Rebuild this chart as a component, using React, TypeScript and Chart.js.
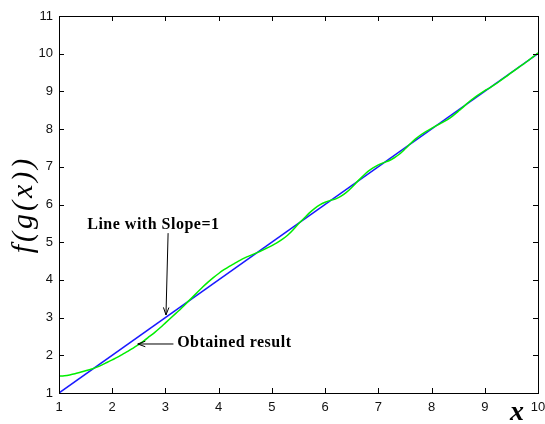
import React, { useEffect, useRef } from "react";
import { Chart, registerables } from "chart.js";

Chart.register(...registerables);

const xValues = [
  1.0, 1.1, 1.2, 1.3, 1.4, 1.5, 1.6, 1.7, 1.8, 1.9,
  2.0, 2.1, 2.2, 2.3, 2.4, 2.5, 2.6, 2.7, 2.8, 2.9,
  3.0, 3.1, 3.2, 3.3, 3.4, 3.5, 3.6, 3.7, 3.8, 3.9,
  4.0, 4.1, 4.2, 4.3, 4.4, 4.5, 4.6, 4.7, 4.8, 4.9,
  5.0, 5.1, 5.2, 5.3, 5.4, 5.5, 5.6, 5.7, 5.8, 5.9,
  6.0, 6.1, 6.2, 6.3, 6.4, 6.5, 6.6, 6.7, 6.8, 6.9,
  7.0, 7.1, 7.2, 7.3, 7.4, 7.5, 7.6, 7.7, 7.8, 7.9,
  8.0, 8.1, 8.2, 8.3, 8.4, 8.5, 8.6, 8.7, 8.8, 8.9,
  9.0, 9.1, 9.2, 9.3, 9.4, 9.5, 9.6, 9.7, 9.8, 9.9,
  10.0,
];

const obtainedResult = [
  1.45, 1.46, 1.48, 1.51, 1.55, 1.59, 1.63, 1.68, 1.74, 1.81,
  1.88, 1.95, 2.03, 2.11, 2.2, 2.29, 2.39, 2.5, 2.61, 2.73,
  2.86, 2.99, 3.12, 3.25, 3.39, 3.53, 3.67, 3.81, 3.94, 4.06,
  4.17, 4.27, 4.36, 4.44, 4.52, 4.59, 4.65, 4.71, 4.77, 4.84,
  4.91, 4.99, 5.08, 5.19, 5.33, 5.49, 5.63, 5.77, 5.89, 5.99,
  6.06, 6.11, 6.15, 6.22, 6.32, 6.45, 6.6, 6.74, 6.87, 6.97,
  7.05, 7.11, 7.16, 7.24, 7.34, 7.47, 7.61, 7.74, 7.85, 7.94,
  8.02, 8.1, 8.17, 8.25, 8.35, 8.47, 8.59, 8.72, 8.83, 8.93,
  9.02, 9.1, 9.19, 9.29, 9.39, 9.5, 9.6, 9.7, 9.8, 9.91,
  10.02,
];

const slopeLineX = [1, 10];
const slopeLineY = [1, 10];

const xTicks = [1, 2, 3, 4, 5, 6, 7, 8, 9, 10];
const yTicks = [1, 2, 3, 4, 5, 6, 7, 8, 9, 10, 11];

const slopeLabel = "Line with Slope=1";
const obtainedLabel = "Obtained result";
const yTitle = "f(g(x))";
const xTitle = "x";

const SERIF = '"Liberation Serif", "Times New Roman", serif';
const SANS = '"Liberation Sans", Arial, sans-serif';

function drawArrow(ctx: CanvasRenderingContext2D, x1: number, y1: number, x2: number, y2: number) {
  ctx.beginPath();
  ctx.moveTo(x1, y1);
  ctx.lineTo(x2, y2);
  ctx.stroke();
  const ang = Math.atan2(y2 - y1, x2 - x1);
  const len = 8;
  const spread = 0.35;
  ctx.beginPath();
  ctx.moveTo(x2 - len * Math.cos(ang - spread), y2 - len * Math.sin(ang - spread));
  ctx.lineTo(x2, y2);
  ctx.lineTo(x2 - len * Math.cos(ang + spread), y2 - len * Math.sin(ang + spread));
  ctx.stroke();
}

const framePlugin = {
  id: "matlabFrame",
  afterDatasetsDraw(chart: any) {
    const { ctx, chartArea: a, scales } = chart;
    const xs = scales.x;
    const ys = scales.y;
    ctx.save();
    ctx.strokeStyle = "#000";
    ctx.lineWidth = 1;
    ctx.strokeRect(Math.round(a.left) + 0.5, Math.round(a.top) + 0.5, Math.round(a.right - a.left), Math.round(a.bottom - a.top));
    const tl = 5;
    xTicks.forEach((v) => {
      const px = Math.round(xs.getPixelForValue(v)) + 0.5;
      ctx.beginPath();
      ctx.moveTo(px, a.bottom);
      ctx.lineTo(px, a.bottom - tl);
      ctx.moveTo(px, a.top);
      ctx.lineTo(px, a.top + tl);
      ctx.stroke();
    });
    yTicks.forEach((v) => {
      const py = Math.round(ys.getPixelForValue(v)) + 0.5;
      ctx.beginPath();
      ctx.moveTo(a.left, py);
      ctx.lineTo(a.left + tl, py);
      ctx.moveTo(a.right, py);
      ctx.lineTo(a.right - tl, py);
      ctx.stroke();
    });

    ctx.fillStyle = "#000";
    ctx.font = `bold 16px ${SERIF}`;
    (ctx as any).letterSpacing = "0.5px";
    ctx.textBaseline = "middle";
    ctx.textAlign = "left";
    ctx.fillText(slopeLabel, xs.getPixelForValue(1.53), ys.getPixelForValue(5.46));
    ctx.fillText(obtainedLabel, xs.getPixelForValue(3.22), ys.getPixelForValue(2.33));
    (ctx as any).letterSpacing = "0px";
    drawArrow(ctx, xs.getPixelForValue(3.05), ys.getPixelForValue(5.24), xs.getPixelForValue(3.01), ys.getPixelForValue(3.07));
    drawArrow(ctx, xs.getPixelForValue(3.15), ys.getPixelForValue(2.3), xs.getPixelForValue(2.48), ys.getPixelForValue(2.3));

    ctx.font = `italic bold 28px ${SERIF}`;
    ctx.textAlign = "center";
    ctx.textBaseline = "alphabetic";
    ctx.fillText(xTitle, a.right - 21, a.bottom + 27);

    ctx.save();
    ctx.translate(24, (a.top + a.bottom) / 2);
    ctx.rotate(-Math.PI / 2);
    ctx.font = `italic 30px ${SERIF}`;
    (ctx as any).letterSpacing = "3px";
    ctx.textAlign = "center";
    ctx.textBaseline = "middle";
    ctx.fillText(yTitle, 0, 0);
    ctx.restore();
    ctx.restore();
  },
};

export default function App() {
  const ref = useRef<HTMLCanvasElement>(null);
  useEffect(() => {
    document.body.style.margin = "0";
    const canvas = ref.current!;
    const chart = new Chart(canvas, {
      type: "line",
      data: {
        datasets: [
          {
            label: "Obtained result",
            data: xValues.map((x, i) => ({ x, y: obtainedResult[i] })),
            borderColor: "#00ee00",
            borderWidth: 1.5,
            pointRadius: 0,
            cubicInterpolationMode: "monotone",
            fill: false,
          },
          {
            label: "Line with Slope=1",
            data: slopeLineX.map((x, i) => ({ x, y: slopeLineY[i] })),
            borderColor: "#1a1aff",
            borderWidth: 1.5,
            pointRadius: 0,
            fill: false,
          },
        ],
      },
      options: {
        responsive: false,
        animation: false,
        layout: { autoPadding: false, padding: { top: 16, right: 7, left: 0, bottom: 0 } },
        plugins: { legend: { display: false }, tooltip: { enabled: false } },
        scales: {
          x: {
            type: "linear",
            min: 1,
            max: 10,
            grid: { display: false, drawTicks: false },
            border: { display: false },
            afterFit: (s: any) => {
              s.height = 31;
              s.paddingLeft = 0;
              s.paddingRight = 0;
            },
            afterBuildTicks: (s: any) => {
              s.ticks = xTicks.map((v) => ({ value: v }));
            },
            ticks: {
              padding: 7,
              color: "#111",
              font: { family: SANS, size: 13 },
              maxRotation: 0,
              autoSkip: false,
            },
          },
          y: {
            type: "linear",
            min: 1,
            max: 11,
            grid: { display: false, drawTicks: false },
            border: { display: false },
            afterFit: (s: any) => {
              s.width = 59;
              s.paddingTop = 0;
              s.paddingBottom = 0;
            },
            afterBuildTicks: (s: any) => {
              s.ticks = yTicks.map((v) => ({ value: v }));
            },
            ticks: {
              padding: 6,
              color: "#111",
              font: { family: SANS, size: 13 },
              autoSkip: false,
            },
          },
        },
      },
      plugins: [framePlugin],
    } as any);
    return () => chart.destroy();
  }, []);
  return (
    <div style={{ width: 545, height: 424, background: "#fff" }}>
      <canvas ref={ref} width={545} height={424} style={{ display: "block" }} />
    </div>
  );
}
